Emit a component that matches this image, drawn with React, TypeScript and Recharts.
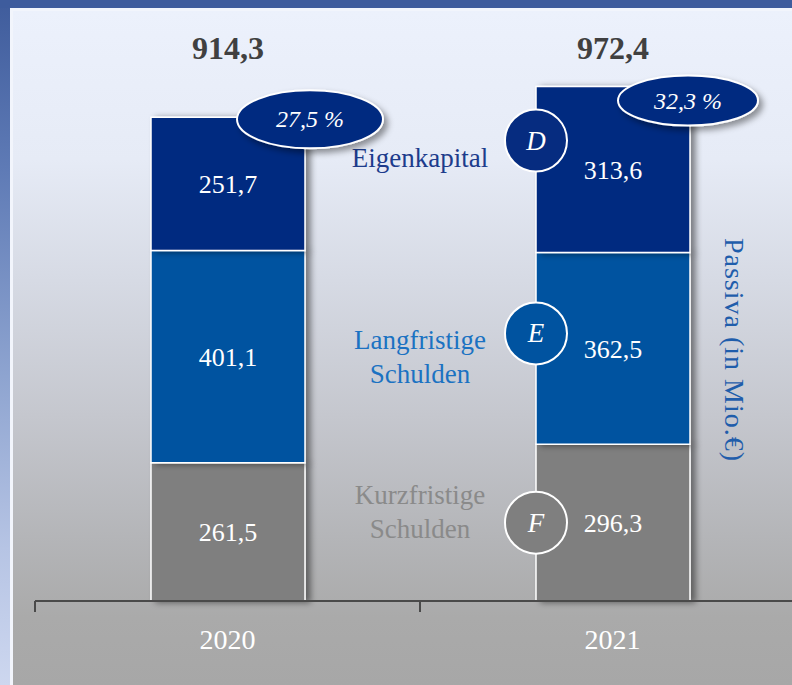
import React from 'react';
import { BarChart, Bar, XAxis, YAxis, LabelList } from 'recharts';

const years = ['2020', '2021'];
const kurzfristig = [261.5, 296.3];
const langfristig = [401.1, 362.5];
const eigenkapital = [251.7, 313.6];
const totals = [914.3, 972.4];
const equityRatio = [27.5, 32.3];

const data = years.map((year, i) => ({
  year,
  kurz: kurzfristig[i],
  lang: langfristig[i],
  eigen: eigenkapital[i],
  total: totals[i],
  ratio: equityRatio[i],
}));

const FONT = '"Liberation Serif", "DejaVu Serif", serif';
const C_EIGEN = '#062c80';
const C_LANG = '#0053a0';
const C_KURZ = '#7f7f7f';

const fmt = (v: number) => v.toFixed(1).replace('.', ',');

function box(props: any) {
  const vb = props.viewBox || {};
  const x = props.x ?? vb.x;
  const y = props.y ?? vb.y;
  const width = props.width ?? vb.width;
  const height = props.height ?? vb.height;
  return { x: Number(x), y: Number(y), width: Number(width), height: Number(height) };
}

const TotalLabel = (props: any) => {
  const { x, width } = box(props);
  const i = props.index;
  return (
    <text x={x + width / 2} y={48} textAnchor="middle" dominantBaseline="central"
      fontFamily={FONT} fontWeight="bold" fontSize={32} fill="#404040">
      {fmt(data[i].total)}
    </text>
  );
};

const RatioLabel = (props: any) => {
  const { x, y, width } = box(props);
  const i = props.index;
  const offs = i === 0 ? { dx: 5, dy: 2, rx: 73, ry: 29 } : { dx: -2, dy: 14, rx: 70, ry: 25 };
  const cx = x + width + offs.dx;
  const cy = y + offs.dy;
  return (
    <g>
      <ellipse cx={cx} cy={cy} rx={offs.rx} ry={offs.ry} fill={C_EIGEN} stroke="#ffffff" strokeWidth={2} filter="url(#shadowE)" />
      <text x={cx} y={cy} textAnchor="middle" dominantBaseline="central" fontFamily={FONT}
        fontStyle="italic" fontSize={24} fill="#ffffff">
        {fmt(data[i].ratio) + ' %'}
      </text>
    </g>
  );
};

const makeSeriesMarker = (letter: string, color: string, lines: string[], textColor: string, circleDy: number, textDy: number) => (props: any) => {
  const { x, y, height } = box(props);
  if (props.index !== 1) return null;
  const mid = y + height / 2;
  const cy = mid + circleDy;
  const tx = x - 116;
  const ty = mid + textDy;
  const lh = 34;
  return (
    <g>
      {lines.map((l, k) => (
        <text key={k} x={tx} y={ty + (k - (lines.length - 1) / 2) * lh} textAnchor="middle" dominantBaseline="central"
          fontFamily={FONT} fontSize={27} fill={textColor}>
          {l}
        </text>
      ))}
      <circle cx={x} cy={cy} r={31} fill={color} stroke="#ffffff" strokeWidth={2} />
      <text x={x} y={cy} textAnchor="middle" dominantBaseline="central" fontFamily={FONT}
        fontStyle="italic" fontSize={27} fill="#ffffff">
        {letter}
      </text>
    </g>
  );
};

const MarkerD = makeSeriesMarker('D', C_EIGEN, ['Eigenkapital'], '#1d3c8c', -29, -12);
const MarkerE = makeSeriesMarker('E', C_LANG, ['Langfristige', 'Schulden'], '#1b72c2', -15, 9);
const MarkerF = makeSeriesMarker('F', C_KURZ, ['Kurzfristige', 'Schulden'], '#8a8a8a', 0, -11);

const XTick = (props: any) => {
  const { x, y, payload } = props;
  const half = payload && payload.offset ? payload.offset : 192.5;
  return (
    <g>
      <line x1={x - half} x2={x - half} y1={y} y2={y + 11} stroke="#4a4a4a" strokeWidth={2} />
      <line x1={x + half} x2={x + half} y1={y} y2={y + 11} stroke="#4a4a4a" strokeWidth={2} />
      <text x={x} y={y + 38} textAnchor="middle" dominantBaseline="central" fontFamily={FONT}
        fontSize={28} fill="#ffffff">
        {payload.value}
      </text>
    </g>
  );
};

export default function App() {
  return (
    <div style={{ position: 'absolute', left: 0, top: 0, width: 792, height: 685, overflow: 'hidden',
      background: 'linear-gradient(to bottom, #3f5c9c 0%, #5f7bb6 25%, #8ea4d0 55%, #b6c4e4 80%, #cdd7ef 100%)' }}>
      <div style={{ position: 'absolute', left: 0, top: 0, width: 792, height: 8, background: '#3e5c9d' }} />
      <div style={{ position: 'absolute', left: 10, top: 8, right: 0, bottom: 0, background: '#f2f5fc' }} />
      <div style={{ position: 'absolute', left: 13, top: 11, right: 0, bottom: 0,
        background: 'linear-gradient(to bottom, #ecf1fc 0%, #e6ebf6 22%, #d6dae4 40%, #c5c7ce 60%, #b4b5b8 78%, #aaaaaa 90%, #a7a7a7 100%)' }} />
      <div style={{ position: 'absolute', left: 0, top: 0 }}>
        <BarChart width={830} height={685} data={data}
          margin={{ top: 72, right: 25, bottom: 44, left: 35 }}>
          <defs>
            <filter id="shadowB" x="-20%" y="-20%" width="150%" height="140%">
              <feDropShadow dx={5} dy={1} stdDeviation={3} floodColor="#000000" floodOpacity={0.45} />
            </filter>
            <filter id="shadowE" x="-30%" y="-30%" width="170%" height="180%">
              <feDropShadow dx={4} dy={4} stdDeviation={3} floodColor="#000000" floodOpacity={0.4} />
            </filter>
          </defs>
          <XAxis dataKey="year" height={40} tickSize={0} tickMargin={0}
            axisLine={{ stroke: '#4a4a4a', strokeWidth: 2 }} tickLine={false} tick={<XTick />} interval={0} />
          <YAxis hide domain={[0, 1000]} />
          <Bar dataKey="kurz" stackId="a" fill={C_KURZ} stroke="#ffffff" strokeWidth={1.5}
            barSize={154} isAnimationActive={false} filter="url(#shadowB)">
            <LabelList dataKey="kurz" position="center" formatter={(v: any) => fmt(Number(v))}
              fill="#ffffff" fontSize={26} fontFamily={FONT} />
            <LabelList dataKey="kurz" content={<MarkerF />} />
          </Bar>
          <Bar dataKey="lang" stackId="a" fill={C_LANG} stroke="#ffffff" strokeWidth={1.5}
            barSize={154} isAnimationActive={false} filter="url(#shadowB)">
            <LabelList dataKey="lang" position="center" formatter={(v: any) => fmt(Number(v))}
              fill="#ffffff" fontSize={26} fontFamily={FONT} />
            <LabelList dataKey="lang" content={<MarkerE />} />
          </Bar>
          <Bar dataKey="eigen" stackId="a" fill={C_EIGEN} stroke="#ffffff" strokeWidth={1.5}
            barSize={154} isAnimationActive={false} filter="url(#shadowB)">
            <LabelList dataKey="eigen" position="center" formatter={(v: any) => fmt(Number(v))}
              fill="#ffffff" fontSize={26} fontFamily={FONT} />
            <LabelList dataKey="eigen" content={<MarkerD />} />
            <LabelList dataKey="eigen" content={<TotalLabel />} />
            <LabelList dataKey="eigen" content={<RatioLabel />} />
          </Bar>
        </BarChart>
      </div>
      <svg style={{ position: 'absolute', left: 0, top: 0 }} width={792} height={685}>
        <text x={734} y={350} transform="rotate(90 734 350)" textAnchor="middle" dominantBaseline="central"
          fontFamily={FONT} fontSize={28} letterSpacing={1} fill="#1f5dab">
          Passiva (in Mio.€)
        </text>
      </svg>
    </div>
  );
}
